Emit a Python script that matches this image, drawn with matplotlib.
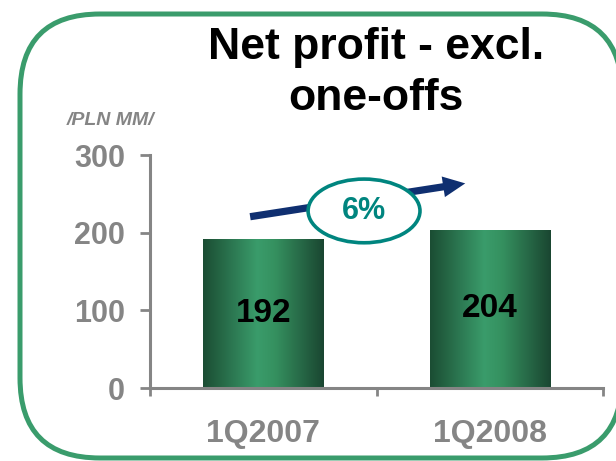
import numpy as np
import matplotlib
matplotlib.use("Agg")
import matplotlib.pyplot as plt
from matplotlib.colors import LinearSegmentedColormap
from matplotlib.patches import FancyBboxPatch, Ellipse, FancyArrowPatch

categories = ["1Q2007", "1Q2008"]
values = [192, 204]
growth_label = "6%"
yticks = [0, 100, 200, 300]
title = "Net profit - excl.\none-offs"
unit_label = "/PLN MM/"

plt.rcParams['font.family'] = ['Liberation Sans', 'DejaVu Sans']

W, H = 616, 461
fig = plt.figure(figsize=(W / 100, H / 100), dpi=100)

# background frame axes in pixel units
bg = fig.add_axes([0, 0, 1, 1], zorder=0)
bg.set_xlim(0, W)
bg.set_ylim(H, 0)
bg.axis("off")
frame = FancyBboxPatch((20, 14), 602, 444,
                       boxstyle="round,pad=0,rounding_size=80",
                       fc="white", ec="#3a9c6c", lw=3.6, clip_on=False)
bg.add_patch(frame)

gray = "#858585"
ax = fig.add_axes([150 / W, (H - 388) / H, (603 - 150) / W, (388 - 155) / H], zorder=1)
ax.patch.set_alpha(0)
x = np.arange(len(categories))
bw = 0.53
bars = ax.bar(x, values, width=bw, color="none", edgecolor="none", zorder=2)

cmap = LinearSegmentedColormap.from_list(
    "bar", [(0.0, "#1b4d33"), (0.45, "#3a9c6b"), (0.6, "#35905f"), (1.0, "#1a4631")])
grad = np.linspace(0, 1, 256).reshape(1, -1)
for b in bars:
    x0, y0 = b.get_x(), b.get_y()
    im = ax.imshow(grad, cmap=cmap, aspect="auto",
                   extent=[x0, x0 + b.get_width(), y0, y0 + b.get_height()], zorder=2)
    im.set_clip_path(b)

for xi, v in zip(x, values):
    ax.text(xi, v / 2, str(v), ha="center", va="center", fontsize=24,
            fontweight="bold", color="black", zorder=4)

ax.set_xlim(-0.5, 1.5)
ax.set_ylim(0, 300)
ax.set_yticks(yticks)
ax.set_yticklabels([str(t) for t in yticks])
ax.set_xticks(x)
ax.set_xticklabels(categories)
ax.set_xticks([-0.5, 0.5, 1.5], minor=True)

for s in ["top", "right"]:
    ax.spines[s].set_visible(False)
for s in ["left", "bottom"]:
    ax.spines[s].set_color(gray)
    ax.spines[s].set_linewidth(2.2)

ax.tick_params(axis="y", direction="out", length=7, width=2, color=gray,
               labelcolor=gray, labelsize=22, pad=11)
for lbl in ax.get_yticklabels():
    lbl.set_fontweight("bold")
ax.tick_params(axis="x", which="major", length=0, labelcolor=gray, labelsize=23, pad=22)
ax.tick_params(axis="x", which="minor", direction="out", length=6, width=2, color=gray)
for lbl in ax.get_xticklabels():
    lbl.set_fontweight("bold")

# growth arrow and ellipse
arr = FancyArrowPatch((-0.07, 220), (0.904, 264),
                      arrowstyle="simple,head_length=0.8,head_width=0.75,tail_width=0.26",
                      mutation_scale=20, fc="#0f2f70", ec="#0f2f70", lw=0,
                      zorder=5, clip_on=False)
ax.add_patch(arr)
ell = Ellipse((0.445, 228), 0.494, 82, fc="white", ec="#00857f", lw=2.6,
              zorder=6, clip_on=False)
ax.add_patch(ell)
ax.text(0.445, 228, growth_label, ha="center", va="center", fontsize=22,
        fontweight="bold", color="#00857f", zorder=7)

# title and unit label
fig.text(376 / W, 1 - 73 / H, title, ha="center", va="center", fontsize=32,
         fontweight="bold", color="black", linespacing=1.32)
fig.text(67 / W, 1 - 120 / H, unit_label, ha="left", va="center", fontsize=14,
         fontweight="bold", fontstyle="italic", color=gray)

fig.savefig("out.png", dpi=100)
